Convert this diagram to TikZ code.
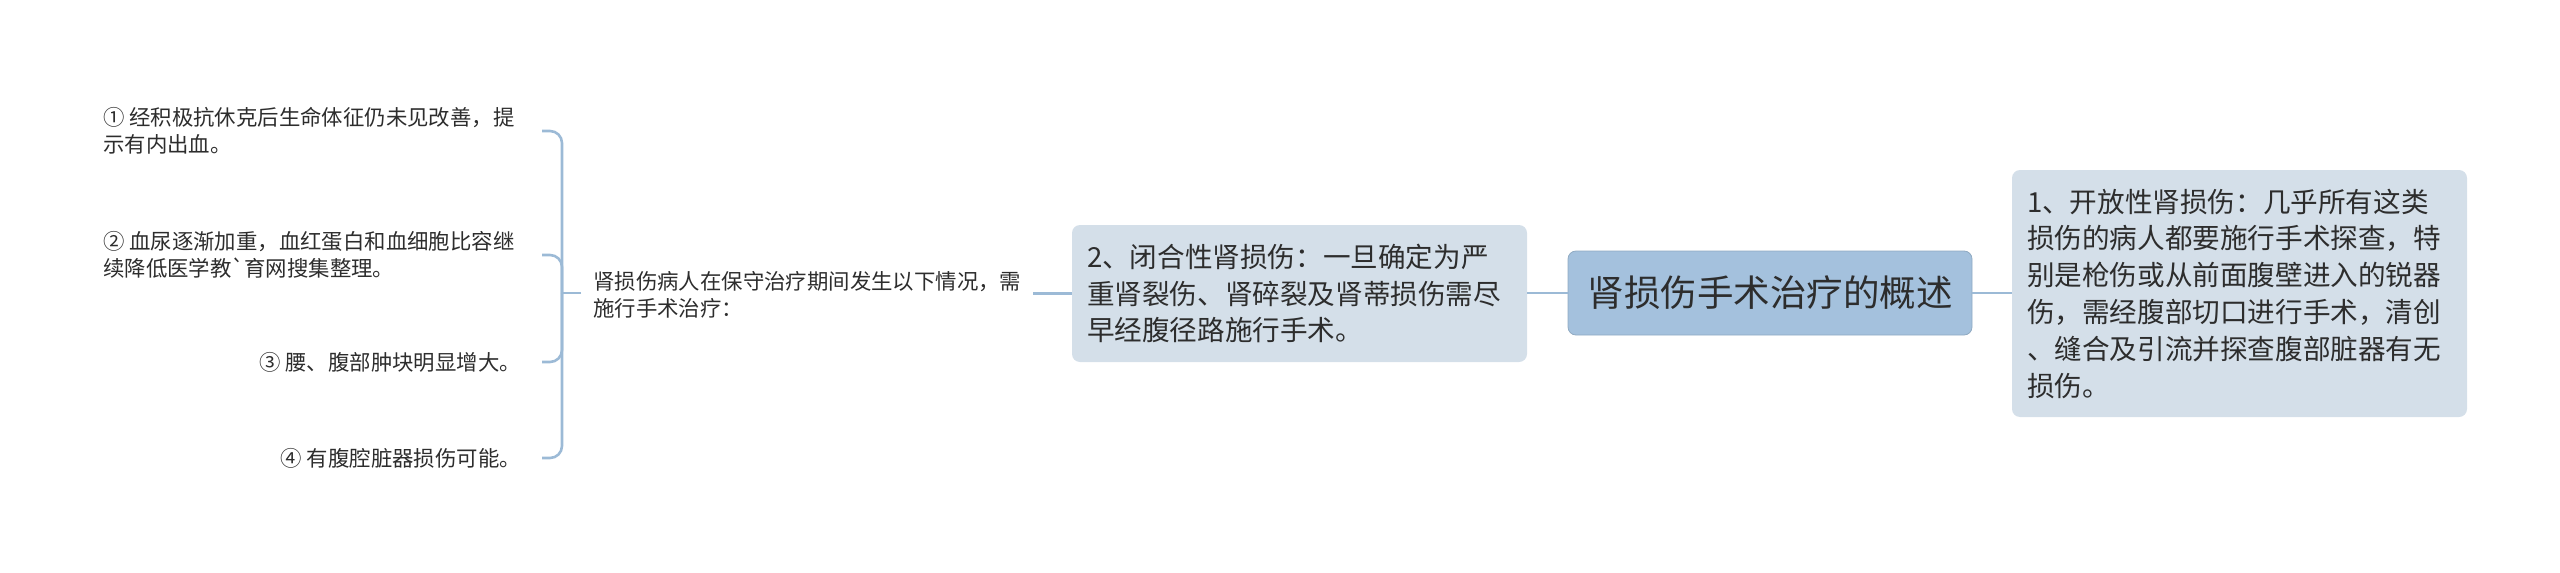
\documentclass[tikz,border=0pt]{standalone}
\usepackage{fontspec}
\newfontfamily\cjk{Noto Sans CJK SC}
\definecolor{rootfill}{RGB}{164,193,221}
\definecolor{subfill}{RGB}{212,223,233}
\definecolor{linec}{RGB}{156,186,214}
\definecolor{txt}{RGB}{45,45,45}
\begin{document}
\begin{tikzpicture}[x=1pt,y=-1pt,
  conn/.style={draw=linec, line width=2.6pt},
  rootbox/.style={fill=rootfill, draw=rootfill!88!black, line width=0.8pt, rounded corners=8pt,
    font=\cjk\fontsize{36.5}{44}\selectfont, text=txt, minimum width=404pt, minimum height=84pt, inner sep=0pt},
  subbox/.style={fill=subfill, rounded corners=8pt, font=\cjk\fontsize{27.6}{36.8}\selectfont,
    text=txt, align=left, inner xsep=15pt, inner ysep=0pt, text width=425pt},
  leaf/.style={font=\cjk\fontsize{21.4}{26.8}\selectfont, text=txt, align=left, inner sep=0pt}]
\useasboundingbox (0,0) rectangle (2560,573);

\node[rootbox] (root) at (1770,293) {肾损伤手术治疗的概述};
\node[subbox, minimum height=247pt] (open) at (2239.5,293.5) {1、开放性肾损伤：几乎所有这类\\损伤的病人都要施行手术探查，特\\别是枪伤或从前面腹壁进入的锐器\\伤，需经腹部切口进行手术，清创\\、缝合及引流并探查腹部脏器有无\\损伤。};
\node[subbox, minimum height=137pt] (closed) at (1299.5,293.5) {2、闭合性肾损伤：一旦确定为严\\重肾裂伤、肾碎裂及肾蒂损伤需尽\\早经腹径路施行手术。};
\node[leaf, inner xsep=12pt, anchor=west] (mid) at (581,295) {肾损伤病人在保守治疗期间发生以下情况，需\\施行手术治疗：};

\node[leaf, anchor=west] (i1) at (103,131) {① 经积极抗休克后生命体征仍未见改善，提\\示有内出血。};
\node[leaf, anchor=west] (i2) at (103,255) {② 血尿逐渐加重，血红蛋白和血细胞比容继\\续降低医学教\symbol{96}育网搜集整理。};
\node[leaf, anchor=east] (i3) at (521,362) {③ 腰、腹部肿块明显增大。};
\node[leaf, anchor=east] (i4) at (521,458) {④ 有腹腔脏器损伤可能。};

\coordinate (brk) at (562,293);
\coordinate (tip) at (542,293);

\draw[conn] (root.east) -- (open.west |- root.east);
\draw[conn] (root.west) -- (closed.east |- root.west);
\draw[conn] (closed.west) -- (closed.west -| mid.east);
\draw[conn] (mid.west |- brk) -- (brk);
\foreach \i in {i1,i2,i3,i4}
  \draw[conn, rounded corners=12pt] (brk) |- (\i.east -| tip);
\end{tikzpicture}
\end{document}
